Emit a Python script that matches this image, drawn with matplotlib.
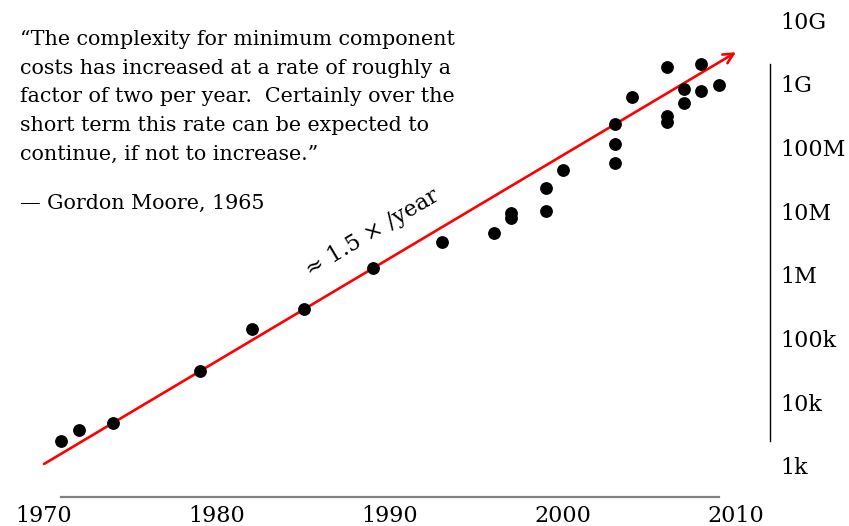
import numpy as np
import matplotlib
matplotlib.use('Agg')
import matplotlib.pyplot as plt
from matplotlib.ticker import FixedLocator, NullLocator

# transistor counts
years = [1971, 1972, 1974, 1979, 1982, 1985, 1989, 1993, 1996, 1997, 1997,
         1999, 1999, 2000, 2003, 2003, 2003, 2004, 2006, 2006, 2006,
         2007, 2007, 2008, 2008, 2009]
counts = [2.47e3, 3.67e3, 4.73e3, 31.0e3, 141e3, 288e3, 1.28e6, 3.28e6, 4.59e6, 9.47e6, 7.9e6,
          22.9e6, 10.1e6, 44.3e6, 234e6, 113e6, 57.7e6, 627e6, 1.82e9, 312e6, 254e6,
          828e6, 494e6, 2.05e9, 780e6, 968e6]

# trend arrow (~1.5x per year)
trend_years = [1970, 2010]
trend_counts = [1.075e3, 3.13e9]

xticks = [1970, 1980, 1990, 2000, 2010]
yticks = [1e3, 1e4, 1e5, 1e6, 1e7, 1e8, 1e9, 1e10]
ytick_labels = ['1k', '10k', '100k', '1M', '10M', '100M', '1G', '10G']

quote_lines = [
    '\u201cThe complexity for minimum component',
    'costs has increased at a rate of roughly a',
    'factor of two per year.  Certainly over the',
    'short term this rate can be expected to',
    'continue, if not to increase.\u201d',
]
attribution = '\u2014 Gordon Moore, 1965'

plt.rcParams['font.family'] = ['DejaVu Serif']

W, H = 849, 526
fig = plt.figure(figsize=(W / 100, H / 100), dpi=100)
ax = fig.add_axes([44 / W, 60 / H, 692 / W, 445.9 / H])
ax.set_yscale('log')
ax.set_xlim(1970, 2010)
ax.set_ylim(1e3, 1e10)

ax.plot(years, counts, 'o', color='black', ms=8.2, clip_on=False, zorder=3)

ax.annotate('', xy=(trend_years[1], trend_counts[1]), xytext=(trend_years[0], trend_counts[0]),
            arrowprops=dict(arrowstyle='->', color='red', lw=1.9, mutation_scale=18,
                            shrinkA=0, shrinkB=0), annotation_clip=False, zorder=2)

# rotate label to follow the arrow on screen
p0 = ax.transData.transform((trend_years[0], trend_counts[0]))
p1 = ax.transData.transform((trend_years[1], trend_counts[1]))
angle = np.degrees(np.arctan2(p1[1] - p0[1], p1[0] - p0[0]))
ax.text(1985.4, 0.93e6, '\u2248 1.5 \u00d7 /year', fontsize=16, rotation=angle,
        rotation_mode='anchor', ha='left', va='baseline')

# range-frame spines
for s in ['top', 'left']:
    ax.spines[s].set_visible(False)
ax.spines['bottom'].set_position(('outward', 22.3))
ax.spines['bottom'].set_bounds(min(years), max(years))
ax.spines['bottom'].set_color('#808080')
ax.spines['bottom'].set_linewidth(1.6)
ax.spines['right'].set_position(('outward', 24.8))
ax.spines['right'].set_bounds(min(counts), max(counts))
ax.spines['right'].set_linewidth(1.0)

ax.xaxis.set_major_locator(FixedLocator(xticks))
ax.set_xticklabels([str(t) for t in xticks])
ax.yaxis.set_major_locator(FixedLocator(yticks))
ax.yaxis.set_minor_locator(NullLocator())
ax.set_yticklabels(ytick_labels)
ax.yaxis.tick_right()
ax.tick_params(axis='both', length=0, labelsize=16)
ax.tick_params(axis='x', pad=6)
ax.tick_params(axis='y', pad=7)

for i, line in enumerate(quote_lines):
    fig.text(20 / W, 1 - (45 + i * 28.75) / H, line, fontsize=14.9, ha='left', va='baseline')
fig.text(20 / W, 1 - 209 / H, attribution, fontsize=14.9, ha='left', va='baseline')

fig.savefig('out.png', dpi=100)
